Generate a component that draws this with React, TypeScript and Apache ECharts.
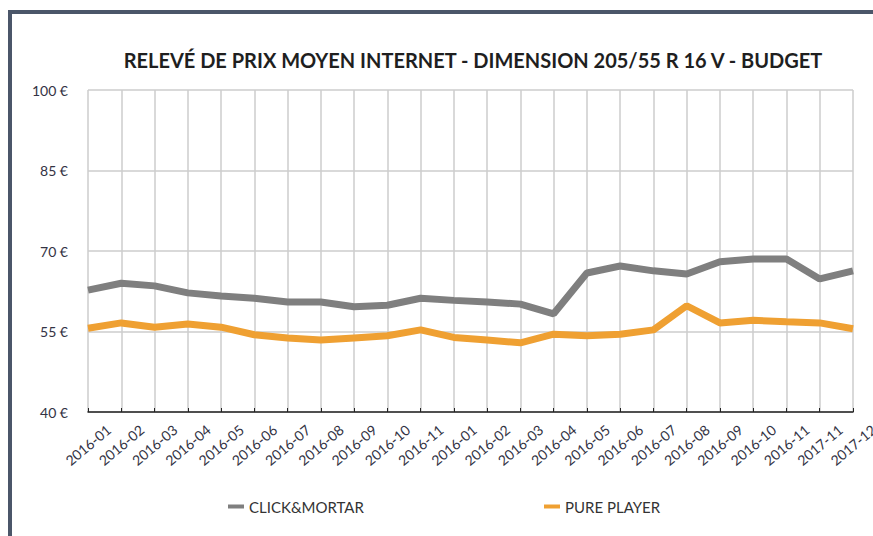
import React, { useEffect, useRef } from "react";
import * as echarts from "echarts";

const categories = [
  "2016-01", "2016-02", "2016-03", "2016-04", "2016-05", "2016-06",
  "2016-07", "2016-08", "2016-09", "2016-10", "2016-11",
  "2016-01", "2016-02", "2016-03", "2016-04", "2016-05", "2016-06",
  "2016-07", "2016-08", "2016-09", "2016-10", "2016-11",
  "2017-11", "2017-12",
];

const clickMortar = [
  62.7, 64.0, 63.5, 62.2, 61.6, 61.2, 60.5, 60.5, 59.6, 59.9, 61.2,
  60.8, 60.5, 60.1, 58.3, 65.9, 67.2, 66.3, 65.7, 68.0, 68.5, 68.5,
  64.8, 66.3,
];

const purePlayer = [
  55.6, 56.6, 55.8, 56.4, 55.8, 54.4, 53.8, 53.4, 53.8, 54.2, 55.3,
  53.9, 53.4, 52.9, 54.5, 54.2, 54.5, 55.3, 59.8, 56.6, 57.1, 56.8,
  56.6, 55.5,
];

const yTicks = { min: 40, max: 100, interval: 15 };
const titleText = "RELEVÉ DE PRIX MOYEN INTERNET - DIMENSION 205/55 R 16 V - BUDGET";
const seriesNames = ["CLICK&MORTAR", "PURE PLAYER"];

export default function App() {
  const ref = useRef<HTMLDivElement>(null);
  useEffect(() => {
    if (!ref.current) return;
    const chart = echarts.init(ref.current, undefined, { renderer: "svg" });
    const font = "Lato, 'Open Sans', sans-serif";
    chart.setOption({
      animation: false,
      backgroundColor: "#ffffff",
      title: {
        text: titleText,
        left: 468,
        top: 45,
        textAlign: "center",
        textStyle: { fontFamily: font, fontWeight: "bold", fontSize: 20, color: "#1f1f1f" },
      },
      graphic: [
        {
          type: "rect",
          shape: { x: 10, y: 12, width: 1000, height: 700 },
          style: { fill: "none", stroke: "#4B5669", lineWidth: 4 },
          silent: true,
        },
      ],
      legend: [
        {
          data: [seriesNames[0]],
          left: 223,
          top: 494,
          itemWidth: 16,
          itemHeight: 4,
          itemGap: 0,
          icon: "rect",
          textStyle: { fontFamily: font, fontSize: 15, color: "#333333" },
        },
        {
          data: [seriesNames[1]],
          left: 539,
          top: 494,
          itemWidth: 16,
          itemHeight: 4,
          icon: "rect",
          textStyle: { fontFamily: font, fontSize: 15, color: "#333333" },
        },
      ],
      grid: {
        left: 88,
        right: 20,
        top: 90,
        bottom: 124,
        containLabel: false,
        outerBoundsMode: "none",
      },
      xAxis: {
        type: "category",
        data: categories,
        boundaryGap: false,
        axisLine: { show: true, lineStyle: { color: "#222222", width: 1.5 } },
        axisTick: { show: true, inside: true, length: 4, lineStyle: { color: "#222222" } },
        axisLabel: {
          rotate: 40,
          interval: 0,
          margin: 33,
          align: "center",
          verticalAlign: "middle",
          fontFamily: font,
          fontSize: 14,
          color: "#333344",
        },
        splitLine: { show: true, lineStyle: { color: "#cccccc", width: 1.5 } },
      },
      yAxis: {
        type: "value",
        min: yTicks.min,
        max: yTicks.max,
        interval: yTicks.interval,
        axisLine: { show: false },
        axisTick: { show: false },
        axisLabel: {
          formatter: "{value} €",
          margin: 20,
          fontFamily: font,
          fontSize: 14,
          color: "#333344",
        },
        splitLine: { show: true, lineStyle: { color: "#cccccc", width: 1.5 } },
      },
      series: [
        {
          name: seriesNames[0],
          type: "line",
          data: clickMortar,
          symbol: "none",
          lineStyle: { width: 7, color: "#7F7F7F" },
          itemStyle: { color: "#7F7F7F" },
        },
        {
          name: seriesNames[1],
          type: "line",
          data: purePlayer,
          symbol: "none",
          lineStyle: { width: 7, color: "#EFA032" },
          itemStyle: { color: "#EFA032" },
        },
      ],
    });
    return () => chart.dispose();
  }, []);
  return (
    <div
      ref={ref}
      style={{ position: "fixed", left: 0, top: 0, width: 873, height: 536 }}
    />
  );
}
